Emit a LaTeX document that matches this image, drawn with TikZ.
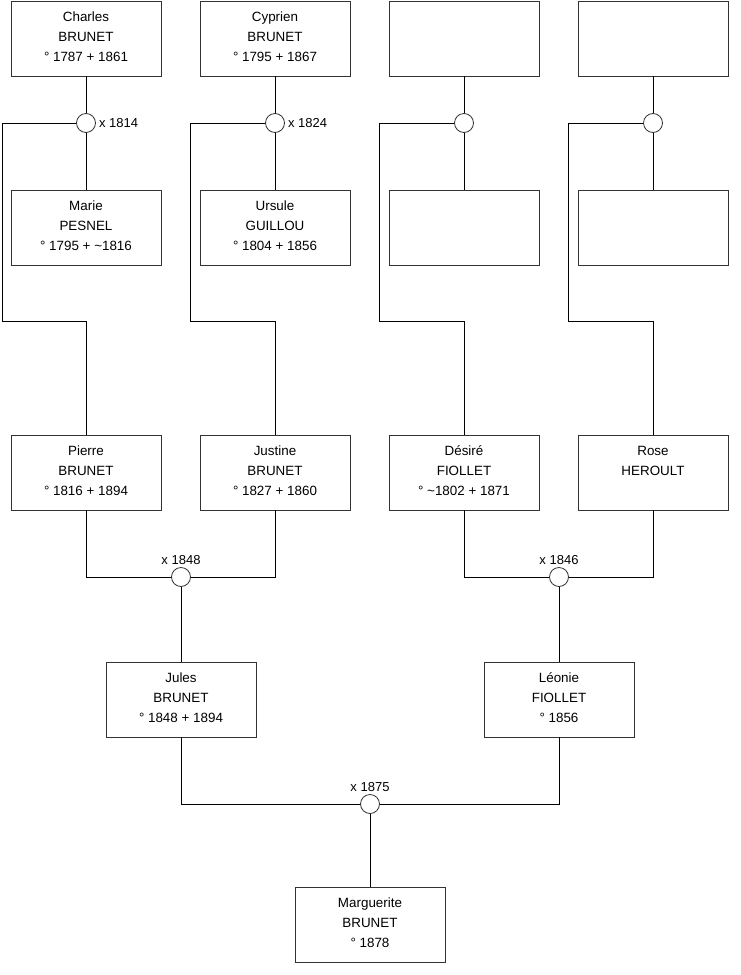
\documentclass[tikz,border=0pt]{standalone}
\usepackage{fontspec}
\setmainfont{Liberation Sans}
\usetikzlibrary{positioning}
\definecolor{TreeInk}{HTML}{333333}

\begin{document}
\begin{tikzpicture}[x=1pt, y=-1pt,
  person/.style={draw=TreeInk, line width=0.8pt, minimum width=150pt, minimum height=75pt,
                 align=center, inner sep=0pt, font=\fontsize{13.4}{20}\selectfont,
                 execute at end node={\rule[-4pt]{0pt}{4pt}}},
  wed/.style={circle, draw=TreeInk, line width=0.8pt, fill=white, minimum size=19pt, inner sep=0pt},
  lbl/.style={font=\fontsize{13}{15}\selectfont, inner sep=2pt},
  link/.style={draw=black, line width=0.8pt}]
  \useasboundingbox (0,0) rectangle (740,975);
  % grandparents
  \node[person] (charles) at (86,38.5) {Charles\\BRUNET\\° 1787 + 1861};
  \node[person] (cyprien) at (275,38.5) {Cyprien\\BRUNET\\° 1795 + 1867};
  \node[person] (gp3) at (464,38.5) {};
  \node[person] (gp4) at (653,38.5) {};
  \node[wed] (m1) at (86,123) {};
  \node[wed] (m2) at (275,123) {};
  \node[wed] (m3) at (464,123) {};
  \node[wed] (m4) at (653,123) {};
  \node[lbl, right=1pt of m1] {x 1814};
  \node[lbl, right=1pt of m2] {x 1824};
  \node[person] (marie) at (86,227.5) {Marie\\PESNEL\\° 1795 + \textasciitilde1816};
  \node[person] (ursule) at (275,227.5) {Ursule\\GUILLOU\\° 1804 + 1856};
  \node[person] (gm3) at (464,227.5) {};
  \node[person] (gm4) at (653,227.5) {};
  % parents
  \node[person] (pierre) at (86,472.5) {Pierre\\BRUNET\\° 1816 + 1894};
  \node[person] (justine) at (275,472.5) {Justine\\BRUNET\\° 1827 + 1860};
  \node[person] (desire) at (464,472.5) {Désiré\\FIOLLET\\° \textasciitilde1802 + 1871};
  \node[person] (rose) at (653,472.5) {Rose\\HEROULT\\\phantom{1}};
  \node[wed] (m5) at (181,577) {};
  \node[wed] (m6) at (559,577) {};
  \node[lbl, above=0pt of m5] {x 1848};
  \node[lbl, above=0pt of m6] {x 1846};
  \node[person] (jules) at (181,699.5) {Jules\\BRUNET\\° 1848 + 1894};
  \node[person] (leonie) at (559,699.5) {Léonie\\FIOLLET\\° 1856};
  \node[wed] (m7) at (370,804) {};
  \node[lbl, above=0pt of m7] {x 1875};
  \node[person] (marguerite) at (370,925) {Marguerite\\BRUNET\\° 1878};
  % connectors
  \path[link] (charles) -- (m1) -- (marie);
  \path[link] (cyprien) -- (m2) -- (ursule);
  \path[link] (gp3) -- (m3) -- (gm3);
  \path[link] (gp4) -- (m4) -- (gm4);
  \path[link] (m1.west) -| (2,321) -| (pierre.north);
  \path[link] (m2.west) -| (190,321) -| (justine.north);
  \path[link] (m3.west) -| (379,321) -| (desire.north);
  \path[link] (m4.west) -| (568,321) -| (rose.north);
  \path[link] (pierre.south) |- (m5.west);
  \path[link] (justine.south) |- (m5.east);
  \path[link] (desire.south) |- (m6.west);
  \path[link] (rose.south) |- (m6.east);
  \path[link] (m5) -- (jules);
  \path[link] (m6) -- (leonie);
  \path[link] (jules.south) |- (m7.west);
  \path[link] (leonie.south) |- (m7.east);
  \path[link] (m7) -- (marguerite);
\end{tikzpicture}
\end{document}
